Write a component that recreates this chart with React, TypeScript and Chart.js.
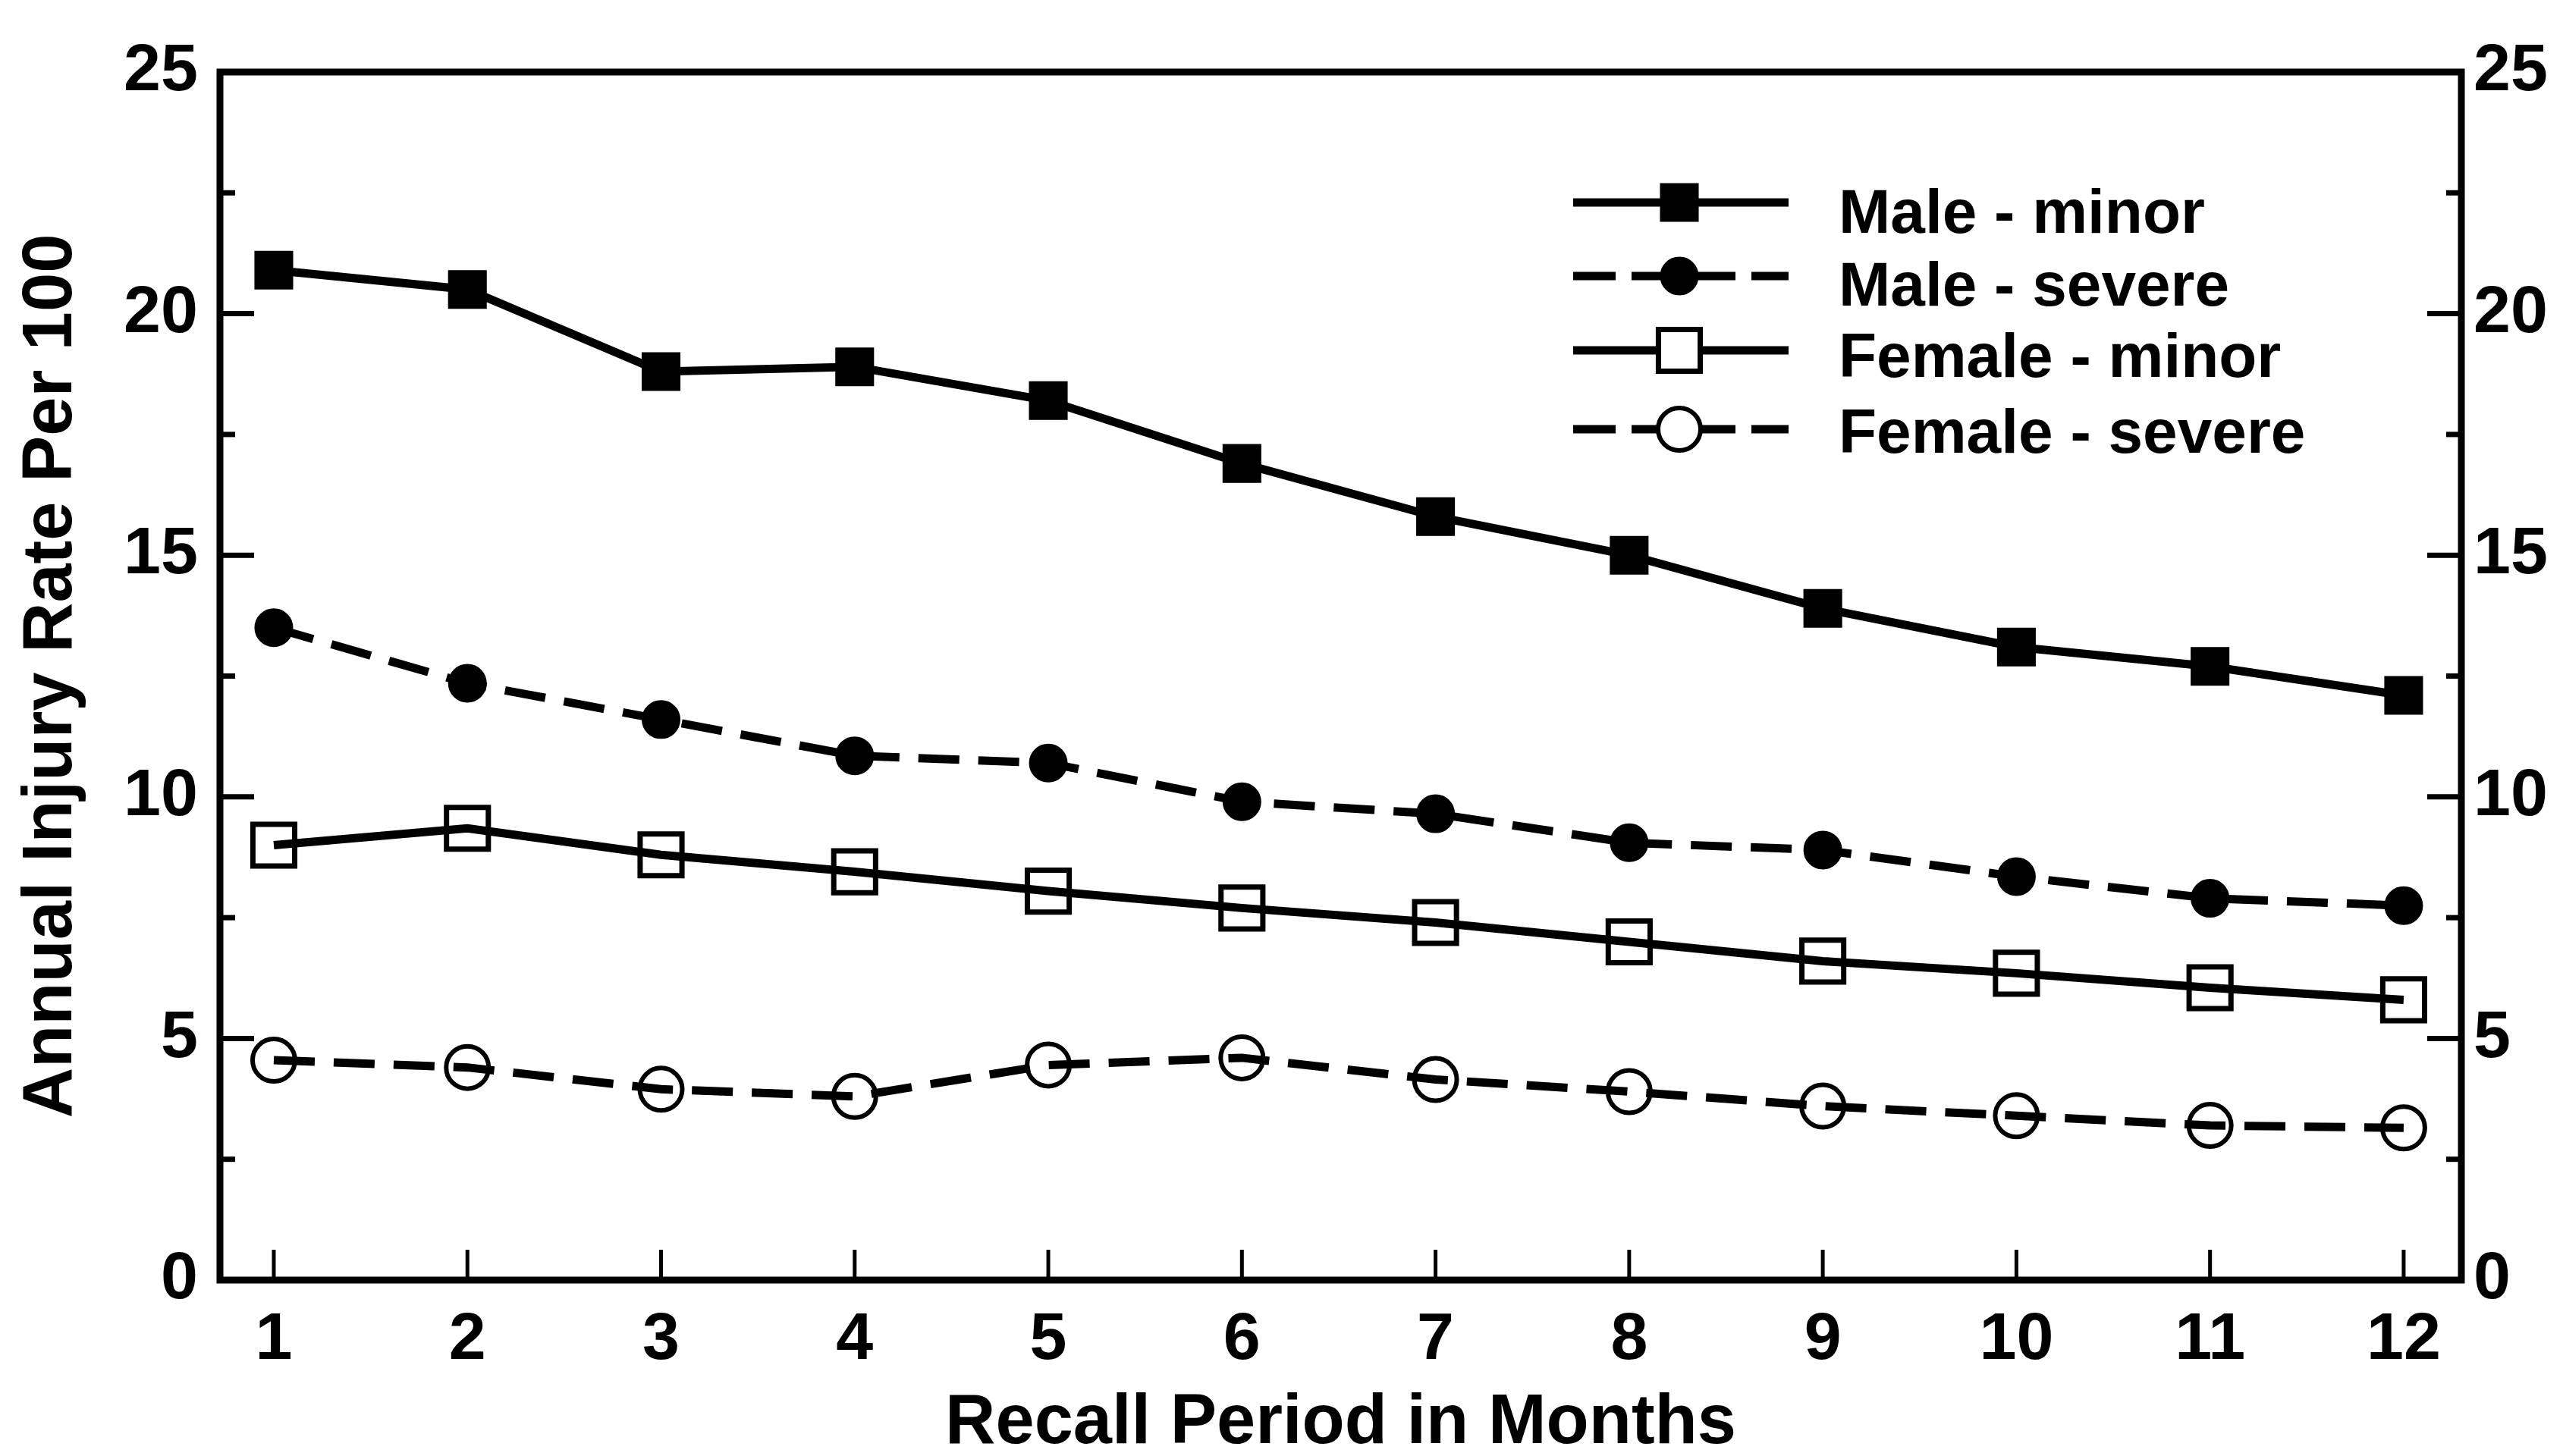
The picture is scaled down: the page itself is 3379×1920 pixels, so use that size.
import React, { useEffect, useRef } from 'react';
import { Chart, registerables } from 'chart.js';

Chart.register(...registerables);

// ---------- data ----------
const MONTHS = [1, 2, 3, 4, 5, 6, 7, 8, 9, 10, 11, 12];
const MALE_MINOR = [20.9, 20.5, 18.8, 18.9, 18.2, 16.9, 15.8, 15.0, 13.9, 13.1, 12.7, 12.1];
const MALE_SEVERE = [13.5, 12.35, 11.6, 10.85, 10.7, 9.9, 9.65, 9.05, 8.9, 8.35, 7.9, 7.75];
const FEMALE_MINOR = [9.0, 9.35, 8.8, 8.45, 8.05, 7.7, 7.4, 7.0, 6.6, 6.35, 6.05, 5.8];
const FEMALE_SEVERE = [4.55, 4.4, 3.95, 3.8, 4.45, 4.6, 4.15, 3.9, 3.6, 3.4, 3.2, 3.15];
const SERIES_NAMES = ['Male - minor', 'Male - severe', 'Female - minor', 'Female - severe'];
const Y_TICK_LABELS = [0, 5, 10, 15, 20, 25];
const Y_MINOR_TICKS = [2.5, 7.5, 12.5, 17.5, 22.5];
const X_TITLE = 'Recall Period in Months';
const Y_TITLE = 'Annual Injury Rate Per 100';

const FONT = "'Liberation Sans', Arial, Helvetica, sans-serif";
const W = 3379;
const H = 1920;

const toXY = (vals: number[]) => MONTHS.map((m, i) => ({ x: m, y: vals[i] }));

const framePlugin = {
  id: 'frameAndLegend',
  beforeDraw(chart: any) {
    const { ctx } = chart;
    ctx.save();
    ctx.fillStyle = '#fff';
    ctx.fillRect(0, 0, chart.width, chart.height);
    ctx.restore();
  },
  afterDraw(chart: any) {
    const { ctx, chartArea, scales } = chart;
    const { left, right, top, bottom } = chartArea;
    ctx.save();
    ctx.strokeStyle = '#000';
    ctx.fillStyle = '#000';
    ctx.lineCap = 'butt';
    ctx.setLineDash([]);
    // frame
    ctx.lineWidth = 9;
    ctx.strokeRect(left, top, right - left, bottom - top);
    const line = (x1: number, y1: number, x2: number, y2: number) => {
      ctx.beginPath();
      ctx.moveTo(x1, y1);
      ctx.lineTo(x2, y2);
      ctx.stroke();
    };
    // y ticks (inward, both sides)
    ctx.lineWidth = 7;
    const ys = scales.y;
    [...Y_TICK_LABELS, ...Y_MINOR_TICKS].forEach((v) => {
      const py = ys.getPixelForValue(v);
      const len = Y_TICK_LABELS.includes(v) ? 45 : 20;
      line(left, py, left + len, py);
      line(right, py, right - len, py);
    });
    // x ticks (inward)
    ctx.lineWidth = 5;
    const xs = scales.x;
    MONTHS.forEach((m) => {
      const px = xs.getPixelForValue(m);
      line(px, bottom, px, bottom - 40);
    });

    // legend
    const lx0 = 2074;
    const lx1 = 2358;
    const mx = 2214;
    const rowY = [267, 364, 462, 566];
    const textY = [307, 403, 497, 597];
    chart.data.datasets.forEach((ds: any, i: number) => {
      const y = rowY[i];
      ctx.lineWidth = ds.borderWidth;
      ctx.strokeStyle = '#000';
      ctx.setLineDash([]);
      if (ds.borderDash && ds.borderDash.length) {
        line(lx0, y, lx0 + 56, y);
        line(lx0 + 77, y, lx0 + 214, y);
        line(lx0 + 235, y, lx1, y);
      } else {
        line(lx0, y, lx1, y);
      }
      // marker
      const r = ds.pointRadius;
      ctx.lineWidth = ds.pointBorderWidth;
      const filled = ds.pointBackgroundColor === '#000';
      ctx.fillStyle = filled ? '#000' : '#fff';
      ctx.beginPath();
      if (ds.pointStyle === 'rect') {
        const s = r * Math.SQRT1_2;
        ctx.rect(mx - s, y - s, 2 * s, 2 * s);
      } else {
        ctx.arc(mx, y, r, 0, Math.PI * 2);
      }
      ctx.fill();
      ctx.stroke();
      // text
      ctx.fillStyle = '#000';
      ctx.font = `bold 82px ${FONT}`;
      ctx.textAlign = 'left';
      ctx.textBaseline = 'alphabetic';
      ctx.fillText(SERIES_NAMES[i], 2424, textY[i]);
    });
    ctx.restore();
  },
};

const tickFont = { family: FONT, size: 88, weight: 'bold' as const };

export default function App() {
  const ref = useRef<HTMLCanvasElement>(null);
  useEffect(() => {
    const canvas = ref.current;
    if (!canvas) return;
    const chart = new Chart(canvas, {
      type: 'line',
      data: {
        datasets: [
          {
            label: SERIES_NAMES[0],
            data: toXY(MALE_MINOR),
            borderColor: '#000',
            borderWidth: 11,
            borderDash: [],
            pointStyle: 'rect',
            pointRadius: 34,
            pointBorderWidth: 3,
            pointBackgroundColor: '#000',
            pointBorderColor: '#000',
            tension: 0,
          },
          {
            label: SERIES_NAMES[1],
            data: toXY(MALE_SEVERE),
            borderColor: '#000',
            borderWidth: 11,
            borderDash: [54, 25],
            pointStyle: 'circle',
            pointRadius: 24,
            pointBorderWidth: 3,
            pointBackgroundColor: '#000',
            pointBorderColor: '#000',
            tension: 0,
          },
          {
            label: SERIES_NAMES[2],
            data: toXY(FEMALE_MINOR),
            borderColor: '#000',
            borderWidth: 11,
            borderDash: [],
            pointStyle: 'rect',
            pointRadius: 39,
            pointBorderWidth: 7,
            pointBackgroundColor: 'rgba(0,0,0,0)',
            pointBorderColor: '#000',
            tension: 0,
          },
          {
            label: SERIES_NAMES[3],
            data: toXY(FEMALE_SEVERE),
            borderColor: '#000',
            borderWidth: 11,
            borderDash: [54, 25],
            pointStyle: 'circle',
            pointRadius: 28,
            pointBorderWidth: 6,
            pointBackgroundColor: 'rgba(0,0,0,0)',
            pointBorderColor: '#000',
            tension: 0,
          },
        ] as any,
      },
      options: {
        responsive: false,
        maintainAspectRatio: false,
        devicePixelRatio: 1,
        animation: false,
        events: [],
        layout: { padding: { top: 95, left: 0, right: 0, bottom: 0 } },
        plugins: { legend: { display: false }, tooltip: { enabled: false }, title: { display: false } },
        scales: {
          x: {
            type: 'linear',
            position: 'bottom',
            min: 0.722,
            max: 12.298,
            afterBuildTicks: (s: any) => {
              s.ticks = MONTHS.map((v) => ({ value: v }));
            },
            afterFit: (s: any) => {
              s.height = 232;
            },
            grid: { display: false, drawTicks: false },
            border: { display: false },
            ticks: {
              color: '#000',
              font: tickFont,
              padding: 27,
              maxRotation: 0,
              autoSkip: false,
              callback: (v: any) => String(v),
            },
            title: {
              display: true,
              text: X_TITLE,
              color: '#000',
              font: { family: FONT, size: 92, weight: 'bold', lineHeight: 0.9 },
              padding: { top: 0, bottom: 1 },
            },
          },
          y: {
            type: 'linear',
            position: 'left',
            min: 0,
            max: 25,
            afterBuildTicks: (s: any) => {
              s.ticks = Y_TICK_LABELS.map((v) => ({ value: v }));
            },
            afterFit: (s: any) => {
              s.width = 290;
            },
            grid: { display: false, drawTicks: false },
            border: { display: false },
            ticks: { color: '#000', font: tickFont, padding: 29, callback: (v: any) => String(v) },
            title: {
              display: true,
              text: Y_TITLE,
              color: '#000',
              font: { family: FONT, size: 92, weight: 'bold' },
              padding: { top: 13, bottom: 0 },
            },
          },
          y2: {
            type: 'linear',
            position: 'right',
            min: 0,
            max: 25,
            afterBuildTicks: (s: any) => {
              s.ticks = Y_TICK_LABELS.map((v) => ({ value: v }));
            },
            afterFit: (s: any) => {
              s.width = W - 3245;
            },
            grid: { display: false, drawTicks: false },
            border: { display: false },
            ticks: { color: '#000', font: tickFont, padding: 16, callback: (v: any) => String(v) },
          },
        },
      } as any,
      plugins: [framePlugin],
    });
    return () => chart.destroy();
  }, []);

  return (
    <div style={{ position: 'fixed', left: 0, top: 0, width: W, height: H, background: '#fff' }}>
      <canvas ref={ref} width={W} height={H} style={{ display: 'block', width: W, height: H }} />
    </div>
  );
}
